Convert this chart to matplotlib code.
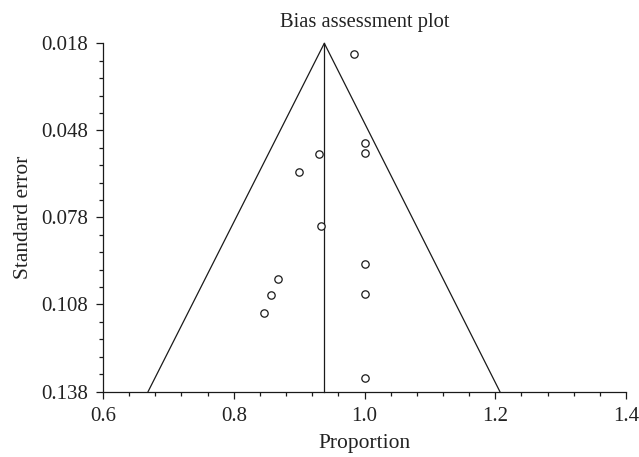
import matplotlib
matplotlib.use("Agg")
import matplotlib.pyplot as plt
from matplotlib.ticker import MultipleLocator, FormatStrFormatter
import numpy as np

# Study estimates (proportion) and their standard errors
proportion = [0.984, 1.0, 1.0, 0.931, 0.900, 0.933, 1.0, 1.0, 0.868, 0.857, 0.847, 1.0]
std_error = [0.0217, 0.0525, 0.0557, 0.0561, 0.0622, 0.0810, 0.0942, 0.1045,
             0.0991, 0.1046, 0.1110, 0.1332]

# pooled estimate and funnel limits at the bottom of the plot
pooled = 0.9385
funnel_low = 0.669
funnel_high = 1.207
se_top = 0.018
se_bottom = 0.138

plt.rcParams['font.family'] = ['Liberation Serif', 'DejaVu Serif']

fig = plt.figure(figsize=(6.39, 4.57), dpi=100)
ax = fig.add_axes([0.1612, 0.1433, 0.9797 - 0.1612, 0.9053 - 0.1433])

lc = '#1a1a1a'
tc = '#222222'
ax.plot([funnel_low, pooled, funnel_high], [se_bottom, se_top, se_bottom],
        color=lc, lw=0.9, clip_on=False)
ax.plot([pooled, pooled], [se_top, se_bottom], color=lc, lw=0.9, clip_on=False)
ax.plot(proportion, std_error, 'o', mfc='white', mec=lc, mew=0.9, ms=5.3,
        linestyle='none', clip_on=False)

ax.set_xlim(0.6, 1.4)
ax.set_ylim(se_bottom, se_top)
ax.xaxis.set_major_locator(MultipleLocator(0.2))
ax.xaxis.set_minor_locator(MultipleLocator(0.04))
ax.set_yticks(np.arange(se_top, se_bottom + 1e-9, 0.03))
ax.set_yticks(np.arange(se_top, se_bottom + 1e-9, 0.006), minor=True)
ax.xaxis.set_major_formatter(FormatStrFormatter('%.1f'))
ax.yaxis.set_major_formatter(FormatStrFormatter('%.3f'))

for s in ['top', 'right']:
    ax.spines[s].set_visible(False)
for s in ['left', 'bottom']:
    ax.spines[s].set_color(lc)
    ax.spines[s].set_linewidth(0.9)
ax.tick_params(which='major', length=5, width=0.9, color=lc, pad=6,
               labelsize=15, labelcolor=tc)
ax.tick_params(which='minor', length=3, width=0.9, color=lc)

ax.set_xlabel('Proportion', color=tc, fontsize=15.5, labelpad=6)
ax.set_ylabel('Standard error', color=tc, fontsize=15.5, labelpad=6)
ax.set_title('Bias assessment plot', color=tc, fontsize=14.8, pad=12)

fig.savefig('out.png', dpi=100)
